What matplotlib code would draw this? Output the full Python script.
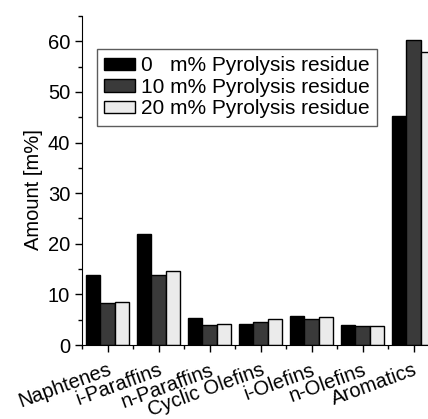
import numpy as np
import matplotlib.pyplot as plt
from matplotlib.ticker import MultipleLocator

categories = ['Naphtenes', 'i-Paraffins', 'n-Paraffins', 'Cyclic Olefins',
              'i-Olefins', 'n-Olefins', 'Aromatics']
residue_0 = [13.8, 22.0, 5.3, 4.1, 5.7, 3.9, 45.2]
residue_10 = [8.2, 13.8, 4.0, 4.5, 5.1, 3.75, 60.3]
residue_20 = [8.4, 14.7, 4.2, 5.1, 5.5, 3.7, 57.8]
series_labels = ['0   m% Pyrolysis residue', '10 m% Pyrolysis residue',
                 '20 m% Pyrolysis residue']

plt.rcParams['font.family'] = ['Liberation Sans', 'DejaVu Sans']
fs = 14.5

fig = plt.figure(figsize=(4.28, 4.19), dpi=100)
ax = fig.add_axes([82 / 428, 74 / 419, 357 / 428, 329 / 419])

x = np.arange(len(categories))
w = 0.275
colors = ['#000000', '#3a3a3a', '#ebebeb']
for i, (vals, col, lab) in enumerate(zip([residue_0, residue_10, residue_20], colors, series_labels)):
    ax.bar(x + (i - 1) * w, vals, width=w, color=col, edgecolor='black',
           linewidth=1.0, label=lab)

ax.set_xlim(-0.5, 6.5)
ax.set_ylim(0, 65)
ax.spines['top'].set_visible(False)
ax.spines['right'].set_visible(False)
ax.set_xticks(x)
ax.set_xticklabels(categories, rotation=20, ha='right', rotation_mode='anchor', fontsize=fs)
ax.xaxis.set_minor_locator(MultipleLocator(1, offset=0.5))
ax.yaxis.set_major_locator(MultipleLocator(10))
ax.yaxis.set_minor_locator(MultipleLocator(5))
ax.tick_params(axis='both', which='major', direction='out', length=5, width=1, labelsize=fs)
ax.tick_params(axis='both', which='minor', direction='out', length=3, width=1)
ax.tick_params(axis='x', which='major', pad=6)
ax.set_ylabel('Amount [m%]', fontsize=fs)
ax.yaxis.set_label_coords(-0.11, 0.473)

leg = ax.legend(loc='upper left', bbox_to_anchor=(97 / 428, 1 - 49 / 419),
                bbox_transform=fig.transFigure, fontsize=15, frameon=True,
                fancybox=False, handlelength=1.45, handleheight=0.55,
                handletextpad=0.3, labelspacing=0.12, borderpad=0.35,
                borderaxespad=0)
leg.get_frame().set_edgecolor('#333333')
leg.get_frame().set_linewidth(1.0)

fig.savefig('out.png', dpi=100)
